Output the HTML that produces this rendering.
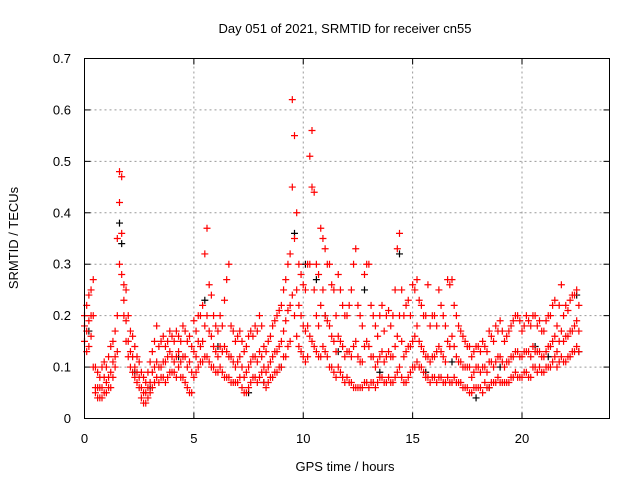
<!DOCTYPE html>
<html><head><meta charset="utf-8"><style>
body{margin:0;background:#fff}
svg{display:block;font-family:"Liberation Sans",sans-serif}
</style></head><body>
<svg id="chart" width="640" height="480" viewBox="0 0 640 480">
<rect width="640" height="480" fill="#fff"/>
<text x="345" y="33" font-size="13" text-anchor="middle">Day 051 of 2021, SRMTID for receiver cn55</text>
<text transform="translate(18,238) rotate(-90)" font-size="13" text-anchor="middle">SRMTID / TECUs</text>
<text x="345" y="471" font-size="13" text-anchor="middle">GPS time / hours</text>
<g id="grid"></g>
<g id="ticks"></g>
<g id="black"></g>
<g id="red"></g>
<rect x="84.5" y="58.5" width="525" height="360" fill="none" stroke="#000" stroke-width="1"/>
</svg>
<script>
const xTicks=[0,5,10,15,20];
const yTicks=[0,0.1,0.2,0.3,0.4,0.5,0.6,0.7];
const yTickLabels=["0","0.1","0.2","0.3","0.4","0.5","0.6","0.7"];
const times=[0,0.2,0.4,0.6,0.8,1.0,1.2,1.4,1.6,1.8,2.0,2.2,2.4,2.6,2.8,3.0,3.2,3.4,3.6,3.8,4.0,4.2,4.4,4.6,4.8,5.0,5.2,5.4,5.6,5.8,6.0,6.2,6.4,6.6,6.8,7.0,7.2,7.4,7.6,7.8,8.0,8.2,8.4,8.6,8.8,9.0,9.2,9.4,9.6,9.8,10.0,10.2,10.4,10.6,10.8,11.0,11.2,11.4,11.6,11.8,12.0,12.2,12.4,12.6,12.8,13.0,13.2,13.4,13.6,13.8,14.0,14.2,14.4,14.6,14.8,15.0,15.2,15.4,15.6,15.8,16.0,16.2,16.4,16.6,16.8,17.0,17.2,17.4,17.6,17.8,18.0,18.2,18.4,18.6,18.8,19.0,19.2,19.4,19.6,19.8,20.0,20.2,20.4,20.6,20.8,21.0,21.2,21.4,21.6,21.8,22.0,22.2,22.4,22.6];
const redHigh=[.2,.24,.27,.09,.1,.1,.14,.17,.48,.26,.2,.16,.12,.09,.07,.11,.15,.14,.16,.15,.16,.17,.15,.17,.16,.19,.2,.22,.37,.24,.18,.2,.23,.3,.17,.16,.15,.14,.17,.18,.2,.14,.15,.18,.2,.22,.27,.32,.55,.3,.26,.3,.56,.3,.37,.33,.3,.25,.28,.22,.2,.25,.33,.2,.28,.3,.2,.16,.22,.2,.18,.25,.36,.2,.23,.26,.27,.22,.2,.18,.2,.25,.2,.27,.27,.2,.17,.15,.14,.13,.14,.15,.13,.16,.18,.19,.15,.17,.19,.2,.17,.2,.18,.2,.19,.17,.2,.22,.18,.26,.22,.23,.24,.22];
const redMid=[.18,.19,.2,.06,.06,.07,.09,.12,.42,.23,.15,.12,.09,.06,.05,.07,.1,.1,.11,.12,.12,.12,.11,.12,.11,.13,.15,.15,.2,.16,.13,.14,.14,.12,.11,.11,.1,.09,.11,.12,.13,.1,.1,.12,.13,.15,.19,.22,.35,.22,.18,.18,.45,.2,.22,.2,.18,.15,.16,.14,.13,.12,.15,.11,.14,.14,.12,.11,.13,.12,.12,.14,.2,.12,.14,.15,.18,.14,.12,.11,.12,.14,.12,.15,.16,.12,.11,.1,.1,.09,.1,.1,.09,.11,.11,.12,.1,.11,.12,.13,.12,.13,.12,.13,.13,.12,.14,.15,.13,.17,.16,.17,.18,.17];
const redLow=[.15,.14,.1,.04,.04,.05,.06,.1,.3,.2,.12,.09,.07,.04,.03,.05,.07,.07,.08,.08,.09,.08,.08,.07,.05,.08,.1,.11,.12,.1,.09,.1,.08,.08,.07,.07,.06,.05,.07,.08,.08,.07,.07,.08,.09,.1,.12,.15,.2,.14,.12,.12,.15,.13,.12,.13,.1,.09,.1,.08,.08,.07,.06,.06,.07,.06,.07,.07,.08,.07,.07,.08,.1,.07,.08,.1,.11,.1,.08,.07,.08,.08,.07,.08,.07,.07,.07,.06,.05,.06,.06,.05,.06,.07,.07,.07,.07,.07,.08,.08,.08,.09,.08,.1,.1,.09,.1,.11,.1,.12,.11,.12,.13,.13];
const times2=[0.1,0.3,0.5,0.7,0.9,1.1,1.3,1.5,1.7,1.9,2.1,2.3,2.5,2.7,2.9,3.1,3.3,3.5,3.7,3.9,4.1,4.3,4.5,4.7,4.9,5.1,5.3,5.5,5.7,5.9,6.1,6.3,6.5,6.7,6.9,7.1,7.3,7.5,7.7,7.9,8.1,8.3,8.5,8.7,8.9,9.1,9.3,9.5,9.7,9.9,10.1,10.3,10.5,10.7,10.9,11.1,11.3,11.5,11.7,11.9,12.1,12.3,12.5,12.7,12.9,13.1,13.3,13.5,13.7,13.9,14.1,14.3,14.5,14.7,14.9,15.1,15.3,15.5,15.7,15.9,16.1,16.3,16.5,16.7,16.9,17.1,17.3,17.5,17.7,17.9,18.1,18.3,18.5,18.7,18.9,19.1,19.3,19.5,19.7,19.9,20.1,20.3,20.5,20.7,20.9,21.1,21.3,21.5,21.7,21.9,22.1,22.3,22.5];
const red2High=[.22,.25,.1,.08,.11,.12,.15,.35,.47,.25,.17,.14,.11,.08,.09,.13,.18,.15,.14,.17,.15,.16,.18,.15,.14,.17,.2,.32,.26,.2,.17,.18,.27,.18,.15,.17,.13,.16,.16,.17,.18,.13,.16,.19,.21,.25,.3,.62,.4,.28,.25,.51,.44,.28,.35,.3,.26,.2,.25,.2,.22,.3,.22,.18,.3,.22,.18,.2,.17,.21,.2,.33,.25,.22,.2,.25,.23,.2,.26,.2,.18,.22,.18,.26,.22,.18,.16,.14,.12,.14,.13,.14,.17,.15,.17,.17,.16,.18,.2,.19,.18,.19,.2,.18,.17,.19,.2,.23,.22,.2,.21,.24,.25];
const red2Mid=[.17,.2,.06,.06,.08,.08,.11,.2,.36,.19,.13,.1,.08,.05,.06,.09,.11,.1,.11,.13,.11,.13,.12,.1,.09,.12,.14,.18,.17,.14,.12,.13,.13,.12,.1,.12,.08,.1,.12,.11,.12,.09,.11,.13,.14,.17,.21,.45,.25,.2,.17,.3,.25,.18,.25,.19,.16,.13,.15,.12,.13,.14,.12,.11,.15,.12,.1,.12,.11,.13,.12,.16,.15,.13,.14,.16,.15,.13,.12,.12,.13,.13,.11,.14,.14,.11,.1,.1,.08,.1,.09,.1,.11,.1,.12,.11,.11,.12,.13,.12,.13,.13,.14,.13,.12,.13,.14,.16,.15,.15,.16,.17,.19];
const red2Low=[.13,.16,.05,.04,.05,.06,.08,.13,.28,.15,.1,.08,.06,.03,.04,.06,.08,.08,.07,.09,.09,.1,.08,.06,.05,.09,.11,.12,.11,.1,.09,.09,.08,.07,.07,.08,.05,.06,.08,.07,.09,.06,.08,.09,.1,.12,.14,.24,.16,.13,.11,.16,.14,.12,.14,.12,.1,.08,.09,.07,.07,.06,.06,.06,.07,.07,.06,.08,.07,.08,.07,.09,.08,.07,.09,.1,.1,.09,.08,.08,.07,.08,.07,.07,.08,.07,.06,.06,.05,.06,.06,.07,.06,.07,.08,.07,.07,.08,.09,.08,.09,.08,.1,.09,.09,.1,.1,.12,.11,.11,.12,.13,.14];
const blackTimes=[0.2,1.6,1.7,3.0,5.5,7.5,8.2,9.6,10.1,10.6,11.0,12.8,14.4,15.6,16.8,17.9,18.5,20.6,22.5,22.6,4.3,6.1,9.0,11.6,13.5,19.0,21.2,2.3];
const blackValues=[.17,.38,.34,.06,.23,.05,.07,.36,.3,.27,.2,.25,.32,.09,.11,.04,.06,.14,.24,.13,.12,.14,.1,.13,.09,.1,.12,.09];
const NS="http://www.w3.org/2000/svg";
const X0=84.5,X1=609.5,Y0=418.5,Y1=58.5;
function xs(v){return X0+(v/24)*(X1-X0);}
function ys(v){return Y0-(v/0.7)*(Y0-Y1);}
function mk(tag,attrs,parent){const e=document.createElementNS(NS,tag);for(const k in attrs)e.setAttribute(k,attrs[k]);parent.appendChild(e);return e;}
const grid=document.getElementById('grid'),ticks=document.getElementById('ticks');
xTicks.forEach(t=>{
  const x=xs(t);
  if(t>0){const g=mk('line',{x1:x,x2:x,y1:Y0,y2:Y1,stroke:'#999','stroke-dasharray':'2,3'},grid);
  
  }
  mk('line',{x1:x,x2:x,y1:Y0,y2:Y0-6,stroke:'#000'},ticks);
  mk('line',{x1:x,x2:x,y1:Y1,y2:Y1+6,stroke:'#000'},ticks);
  const l=mk('text',{x:x,y:443,'font-size':13,'text-anchor':'middle'},ticks);
  
  
  l.textContent=String(t);
});
yTicks.forEach((t,i)=>{
  const y=ys(t);
  if(t>0&&t<0.7){const g=mk('line',{x1:X0,x2:X1,y1:y,y2:y,stroke:'#999','stroke-dasharray':'2,3'},grid);
  
  }
  mk('line',{x1:X0,x2:X0+6,y1:y,y2:y,stroke:'#000'},ticks);
  mk('line',{x1:X1,x2:X1-6,y1:y,y2:y,stroke:'#000'},ticks);
  const l=mk('text',{x:71,y:y+4.5,'font-size':13,'text-anchor':'end'},ticks);
  
  
  l.textContent=yTickLabels[i];
});
function cross(parent,t,v,color){
  const x=xs(t),y=ys(v);
  const p=mk('path',{d:`M${x-3.5},${y}h7M${x},${y-3.5}v7`,stroke:color,'stroke-width':1.2,fill:'none'},parent);
  
  
}
const bl=document.getElementById('black'),rd=document.getElementById('red');
blackTimes.forEach((t,i)=>cross(bl,t,blackValues[i],'#000'));
times.forEach((t,i)=>{cross(rd,t,redHigh[i],'#f00');cross(rd,t,redMid[i],'#f00');cross(rd,t,redLow[i],'#f00');});
times2.forEach((t,i)=>{cross(rd,t,red2High[i],'#f00');cross(rd,t,red2Mid[i],'#f00');cross(rd,t,red2Low[i],'#f00');});
</script>
</body></html>
